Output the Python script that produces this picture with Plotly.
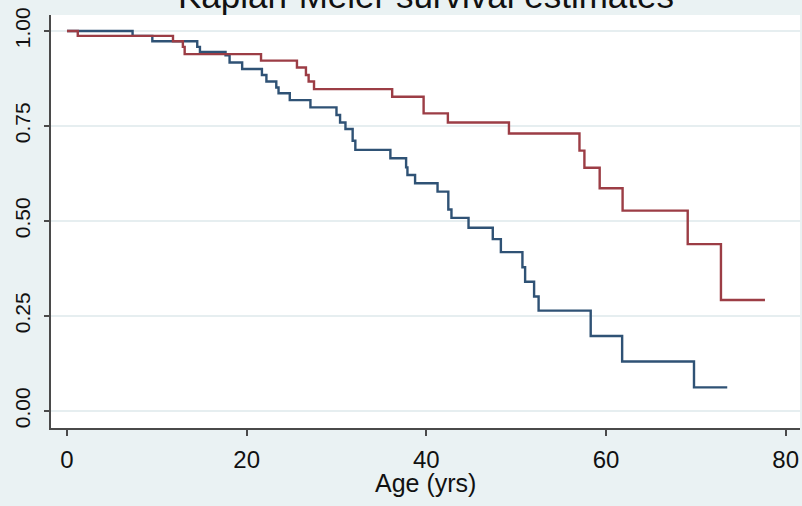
import plotly.graph_objects as go

# Group 1 (navy) Kaplan-Meier steps: event times (yrs) and survival after each step
blue_t = [0, 7.3, 9.5, 14.5, 14.8, 17.65, 18.1, 19.5, 21.7, 22.2, 23.3, 23.55, 24.8,
          27.1, 30.0, 30.4, 31.0, 31.8, 32.1, 36.0, 37.75, 37.9, 38.75, 41.25, 42.45,
          42.8, 44.7, 47.4, 48.3, 50.7, 51.0, 52.0, 52.5, 58.3, 61.8, 69.8, 73.5]
blue_s = [1.0, 0.987, 0.973, 0.958, 0.945, 0.936, 0.917, 0.900, 0.884, 0.867, 0.851, 0.836, 0.818,
          0.799, 0.779, 0.759, 0.742, 0.711, 0.687, 0.665, 0.641, 0.621, 0.599, 0.577, 0.530,
          0.508, 0.482, 0.452, 0.418, 0.378, 0.340, 0.301, 0.264, 0.197, 0.130, 0.062, 0.062]

# Group 2 (maroon)
red_t = [0, 1.2, 11.8, 12.9, 13.1, 21.6, 25.6, 26.6, 26.9, 27.5, 36.2, 39.7, 42.4,
         49.2, 57.05, 57.6, 59.3, 61.85, 69.1, 72.8, 77.7]
red_s = [1.0, 0.987, 0.973, 0.958, 0.939, 0.922, 0.904, 0.884, 0.867, 0.847, 0.827, 0.783, 0.759,
         0.730, 0.685, 0.640, 0.586, 0.527, 0.439, 0.292, 0.292]

x_ticks = [0, 20, 40, 60, 80]
y_ticks = [0, 0.25, 0.5, 0.75, 1.0]
y_ticktext = ["0.00", "0.25", "0.50", "0.75", "1.00"]

title_text = "Kaplan-Meier survival estimates"
x_title = "Age (yrs)"

fig = go.Figure()
fig.add_trace(go.Scatter(x=blue_t, y=blue_s, mode="lines", line_shape="hv",
                         line=dict(color="#2f5275", width=2.4), showlegend=False))
fig.add_trace(go.Scatter(x=red_t, y=red_s, mode="lines", line_shape="hv",
                         line=dict(color="#9c3d45", width=2.4), showlegend=False))

axis_col = "#4a4a4a"
fig.update_layout(
    width=802, height=506,
    margin=dict(l=51, r=2, t=15, b=78, autoexpand=False),
    paper_bgcolor="#eaf2f3",
    plot_bgcolor="#ffffff",
    font=dict(family="Liberation Sans, Arial, sans-serif", color="#111111"),
    showlegend=False,
    annotations=[
        dict(text=title_text, xref="paper", yref="paper", x=0.5, y=0.995,
             xanchor="center", yanchor="bottom", showarrow=False,
             font=dict(size=35, color="#111111")),
        dict(text=x_title, xref="paper", yref="paper", x=0.5, y=-0.095,
             xanchor="center", yanchor="top", showarrow=False,
             font=dict(size=25, color="#111111")),
    ],
)
fig.update_xaxes(range=[-1.78, 81.6], tickvals=x_ticks, showgrid=False, zeroline=False,
                 showline=True, linecolor=axis_col, linewidth=1.5,
                 ticks="outside", ticklen=6, tickwidth=1.5, tickcolor=axis_col,
                 tickfont=dict(size=24), ticklabelstandoff=3, automargin=False)
fig.update_yaxes(range=[-0.045, 1.042], tickvals=y_ticks, ticktext=y_ticktext,
                 showgrid=True, gridcolor="#e6eef0", gridwidth=1.5, zeroline=False,
                 showline=True, linecolor=axis_col, linewidth=1.5,
                 ticks="outside", ticklen=5, tickwidth=1.5, tickcolor=axis_col,
                 tickangle=-90, tickfont=dict(size=21), ticklabelstandoff=6,
                 automargin=False)

fig.write_html("out.html",
               config={"displayModeBar": False},
               post_script="document.body.style.margin='0';"
                           "document.body.style.background='#eaf2f3';")
